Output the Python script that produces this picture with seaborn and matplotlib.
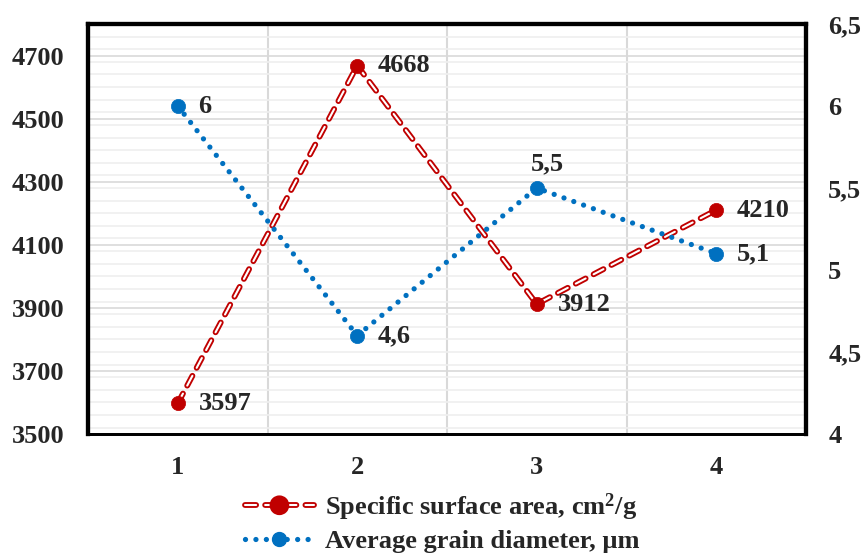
import matplotlib
matplotlib.use("Agg")
import matplotlib.pyplot as plt
import matplotlib.patheffects as pe
from matplotlib.lines import Line2D
from matplotlib.ticker import MultipleLocator, FuncFormatter
import seaborn as sns
import pandas as pd

categories = [1, 2, 3, 4]
surface_area = [3597, 4668, 3912, 4210]
grain_diameter = [6.0, 4.6, 5.5, 5.1]
left_ticks = [3500, 3700, 3900, 4100, 4300, 4500, 4700]
right_ticks = [4.0, 4.5, 5.0, 5.5, 6.0, 6.5]
series_names = ["Specific surface area, cm$^{2}$/g", "Average grain diameter, µm"]

RED = "#C00000"
BLUE = "#0070C0"

sns.set_style("white")
plt.rcParams["font.family"] = ["Liberation Serif", "DejaVu Serif"]
plt.rcParams["font.weight"] = "bold"
plt.rcParams["mathtext.fontset"] = "custom"
plt.rcParams["mathtext.rm"] = "Liberation Serif:bold"
plt.rcParams["mathtext.default"] = "rm"
plt.rcParams["lines.scale_dashes"] = False

df = pd.DataFrame({"cat": categories, "area": surface_area, "diam": grain_diameter})

fig = plt.figure(figsize=(8.62, 5.53), dpi=100)
ax = fig.add_axes([88 / 862, 1 - 434 / 553, (806 - 88) / 862, (434 - 24) / 553])
ax2 = ax.twinx()

red_pe = [pe.Stroke(linewidth=4.2, foreground=RED), pe.Normal()]

# Red series (left axis)
sns.lineplot(data=df, x="cat", y="area", ax=ax, color="white", linewidth=1.5,
             linestyle=(0, (8, 6.5)), dash_capstyle="round", zorder=3)
ax.lines[-1].set_path_effects(red_pe)
sns.scatterplot(data=df, x="cat", y="area", ax=ax, color=RED, s=105,
                edgecolor=RED, linewidth=0.5, zorder=4)

# Blue series (right axis)
sns.lineplot(data=df, x="cat", y="diam", ax=ax2, color=BLUE, linewidth=3.8,
             linestyle=(0, (0.01, 7.5)), dash_capstyle="round", zorder=3)
sns.scatterplot(data=df, x="cat", y="diam", ax=ax2, color=BLUE, s=105,
                edgecolor=BLUE, linewidth=0.5, zorder=4)

# Axes limits and ticks
ax.set_xlim(0.5, 4.5)
ax.set_ylim(3500, 4800)
ax2.set_ylim(4.0, 6.5)
ax.set_xticks(categories)
ax.set_xticklabels([str(c) for c in categories])
ax.set_yticks(left_ticks)
ax.yaxis.set_minor_locator(MultipleLocator(40))
ax2.set_yticks(right_ticks)
ax2.yaxis.set_major_formatter(FuncFormatter(lambda v, p: f"{v:g}".replace(".", ",")))
ax.set_xlabel("")
ax.set_ylabel("")
ax2.set_ylabel("")

fs = 19
ax.tick_params(axis="both", which="both", length=0, labelsize=fs)
ax.tick_params(axis="x", pad=16)
ax.tick_params(axis="y", pad=17)
ax2.tick_params(axis="y", length=0, labelsize=fs, pad=16)
for lab in ax.get_xticklabels() + ax.get_yticklabels() + ax2.get_yticklabels():
    lab.set_fontweight("bold")

# Grid
ax.set_axisbelow(True)
ax.yaxis.grid(True, which="minor", color="#EFEFEF", linewidth=1.2)
ax.yaxis.grid(True, which="major", color="#D9D9D9", linewidth=1.2)
for xb in [1.5, 2.5, 3.5]:
    ax.axvline(xb, color="#D9D9D9", linewidth=1.5, zorder=0.5)

# Spines
for a in (ax, ax2):
    for s in ["left", "top", "right"]:
        a.spines[s].set_color("black")
        a.spines[s].set_linewidth(3)
    a.spines["bottom"].set_color("black")
    a.spines["bottom"].set_linewidth(2)

# Data labels
for x, y in zip(categories, surface_area):
    ax.annotate(str(y), (x, y), xytext=(15, 0), textcoords="offset points",
                ha="left", va="center", fontsize=fs, fontweight="bold")
for x, y in zip(categories, grain_diameter):
    txt = f"{y:g}".replace(".", ",")
    if x == 3:
        ax2.annotate(txt, (x, y), xytext=(8, 9), textcoords="offset points",
                     ha="center", va="bottom", fontsize=fs, fontweight="bold")
    else:
        ax2.annotate(txt, (x, y), xytext=(15, 0), textcoords="offset points",
                     ha="left", va="center", fontsize=fs, fontweight="bold")

# Legend
h1 = Line2D([], [], color="white", linewidth=1.5, linestyle=(0, (8, 6.5)),
            dash_capstyle="round", marker="o", markersize=10,
            markerfacecolor=RED, markeredgecolor=RED, path_effects=red_pe)
h2 = Line2D([], [], color=BLUE, linewidth=3.8, linestyle=(0, (0.01, 7.5)),
            dash_capstyle="round", marker="o", markersize=10,
            markerfacecolor=BLUE, markeredgecolor=BLUE)
fig.legend([h1, h2], series_names, loc="upper center",
           bbox_to_anchor=(0.513, 0.131), ncol=1, frameon=False,
           prop={"size": 19, "weight": "bold"}, handlelength=2.6,
           labelspacing=0.28, borderaxespad=0, handletextpad=0.42)

fig.savefig("out.png", dpi=100)
